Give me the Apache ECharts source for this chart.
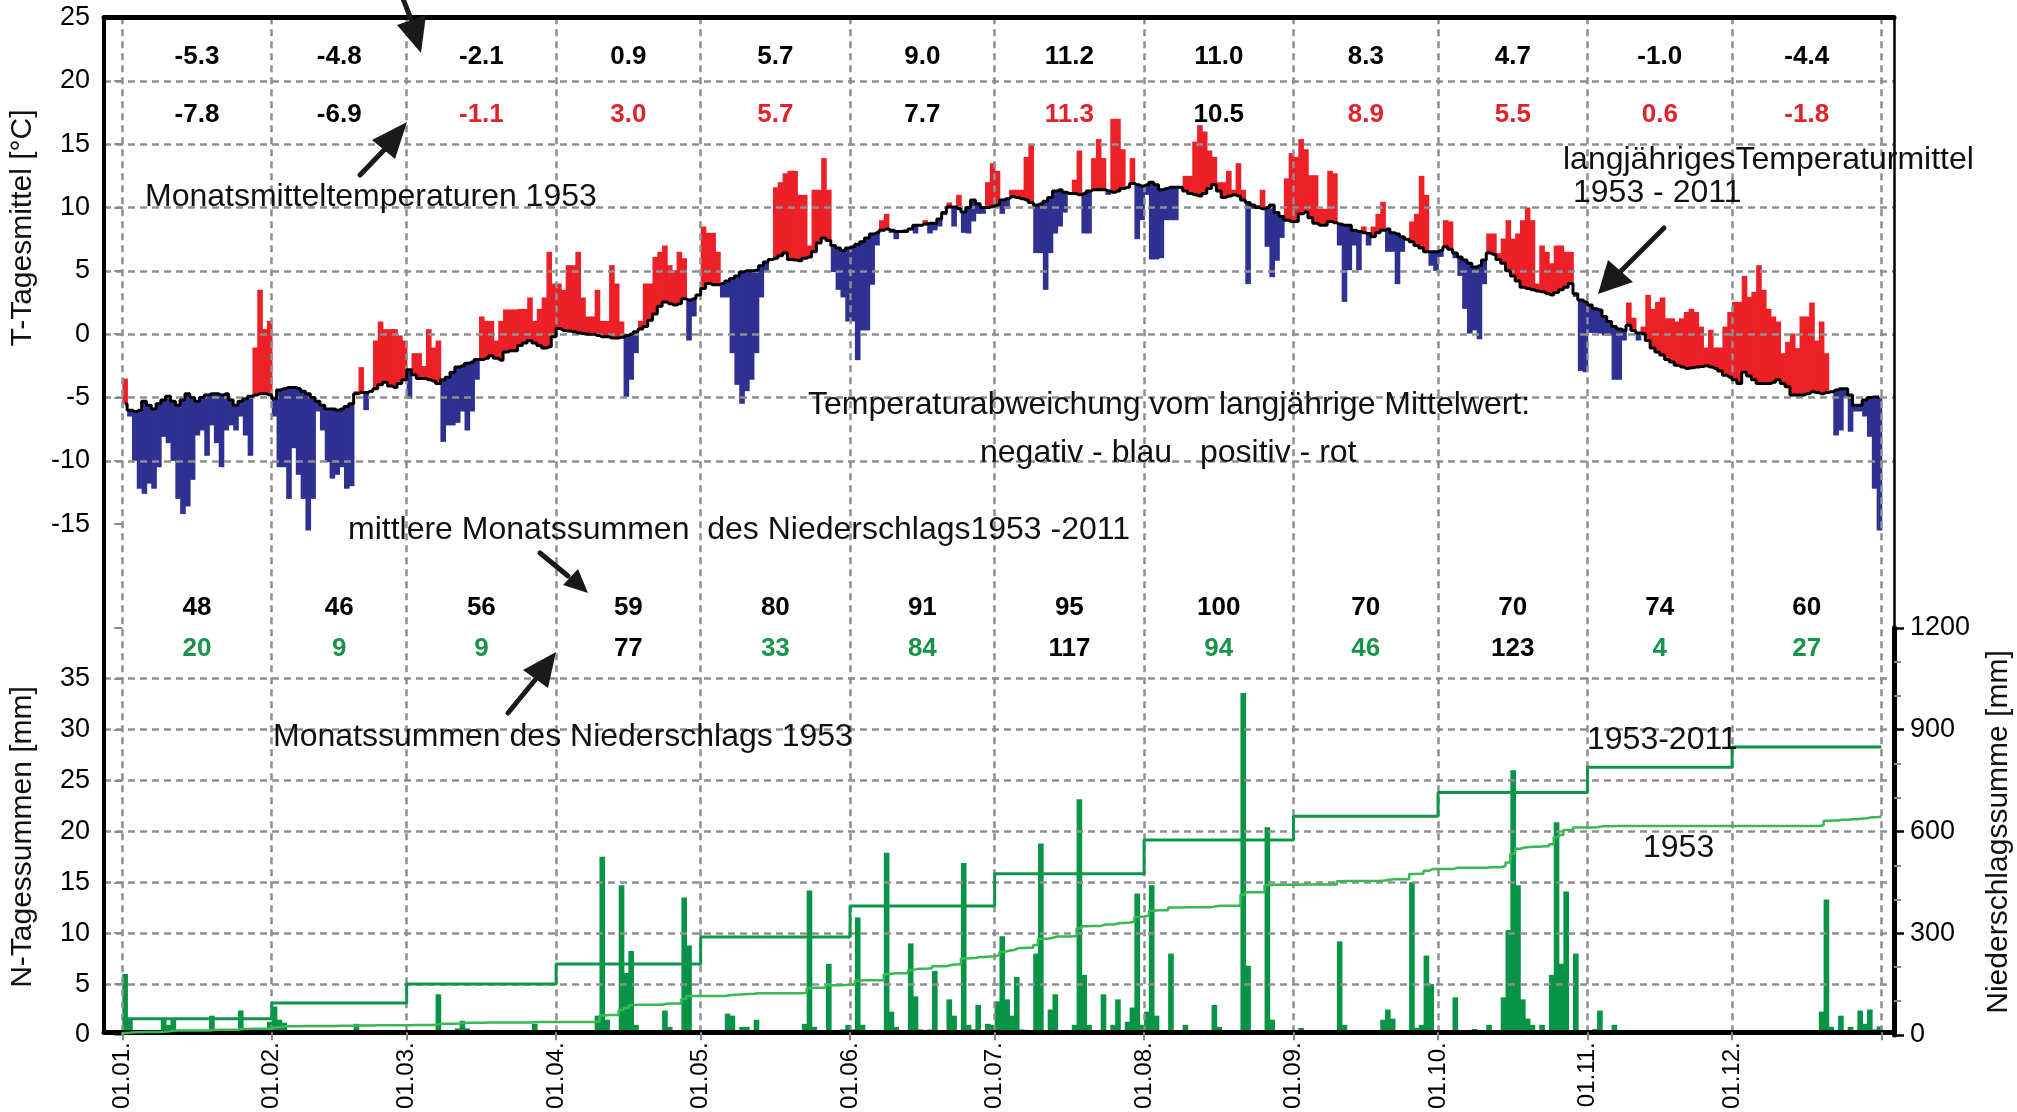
<!DOCTYPE html>
<html><head><meta charset="utf-8">
<script src="https://cdn.jsdelivr.net/npm/echarts@6/dist/echarts.min.js"></script>
<style>html,body{margin:0;padding:0;background:#fff}#c{width:2017px;height:1112px}</style>
</head><body><div id="c"></div>
<script>
// ---------------- DATA ----------------
const monthLengths = [31,28,31,30,31,30,31,31,30,31,30,31];
const dateLabels = ['01.01.','01.02.','01.03.','01.04.','01.05.','01.06.','01.07.','01.08.','01.09.','01.10.','01.11.','01.12.'];
const tempMonthLong = [-5.3,-4.8,-2.1,0.9,5.7,9.0,11.2,11.0,8.3,4.7,-1.0,-4.4];
const tempMonth1953 = [-7.8,-6.9,-1.1,3.0,5.7,7.7,11.3,10.5,8.9,5.5,0.6,-1.8];
const precipMonthLong = [48,46,56,59,80,91,95,100,70,70,74,60];
const precipMonth1953 = [20,9,9,77,33,84,117,94,46,123,4,27];

// long-term daily mean temperature 1953-2011 (per month)
const tempLongDaily = [
 [-5.5,-6.0,-6.1,-6.0,-5.3,-5.6,-5.9,-5.5,-5.2,-4.9,-5.3,-5.6,-5.2,-4.7,-5.0,-5.3,-5.0,-4.8,-4.7,-4.7,-4.8,-4.7,-5.2,-5.6,-5.3,-5.1,-4.9,-4.8,-4.7,-4.7,-4.8],
 [-5.1,-4.4,-4.3,-4.2,-4.2,-4.3,-4.5,-4.7,-5.0,-5.3,-5.6,-5.9,-5.9,-6.0,-5.9,-5.7,-5.5,-4.7,-4.6,-4.6,-4.5,-4.3,-4.0,-3.8,-4.1,-4.2,-3.9,-3.6],
 [-2.8,-3.2,-3.5,-3.5,-3.6,-3.7,-3.9,-3.6,-3.4,-3.0,-2.6,-2.5,-2.3,-2.2,-2.0,-2.0,-1.9,-1.7,-1.9,-2.05,-1.4,-1.3,-1.3,-0.9,-0.7,-0.5,-0.7,-0.9,-1.1,-1.0,-0.2],
 [0.45,0.3,0.25,0.2,0.1,0.05,0.0,0.0,-0.1,-0.2,-0.2,-0.3,-0.3,-0.25,-0.1,0.0,0.2,0.4,0.6,1.1,1.6,2.2,2.55,2.4,2.3,2.4,2.8,2.7,2.8,3.1],
 [3.6,4.0,3.9,3.9,4.0,4.2,4.4,4.6,4.9,5.0,5.0,5.05,5.4,5.7,5.9,6.0,6.2,6.4,5.9,5.85,5.8,6.0,6.1,6.5,7.2,7.6,7.4,7.0,6.8,6.6,6.8],
 [6.9,7.1,7.3,7.6,7.9,8.0,8.2,8.3,8.2,8.1,8.1,8.1,8.3,8.6,8.6,8.7,8.75,8.75,9.1,9.6,10.05,10.05,9.9,9.65,10.0,10.6,10.3,10.0,10.0,10.1],
 [10.2,10.6,10.7,10.85,10.8,10.7,10.6,10.4,10.2,10.3,10.5,10.8,11.3,11.4,11.2,11.1,11.1,11.0,11.1,11.3,11.4,11.4,11.4,11.3,11.2,11.3,11.5,11.6,11.9,11.8,11.7],
 [11.8,12.0,11.8,11.4,11.5,11.6,11.6,11.6,11.3,11.1,11.0,10.9,11.1,11.5,11.8,11.3,10.8,10.9,11.0,10.9,10.6,10.4,10.2,10.0,9.9,10.0,10.2,9.6,9.3,9.0,8.9],
 [8.9,9.5,9.65,9.2,8.75,8.6,8.6,8.9,8.8,8.7,8.6,8.6,8.2,8.1,8.0,7.95,7.7,8.0,8.2,8.3,8.0,7.9,7.7,7.5,7.3,7.0,6.8,6.5,6.5,6.5],
 [6.6,6.9,6.7,6.4,6.1,5.85,5.6,5.3,5.4,5.85,6.4,6.3,5.9,5.6,5.0,4.6,4.2,3.7,3.6,3.5,3.4,3.35,3.2,3.1,3.3,3.5,3.7,4.0,3.2,2.7,2.55],
 [2.3,2.0,1.9,1.4,1.0,0.6,0.4,0.3,0.7,0.3,0.1,0.05,-0.5,-1.1,-1.4,-1.65,-2.0,-2.2,-2.45,-2.6,-2.7,-2.65,-2.6,-2.55,-2.5,-2.6,-2.7,-2.9,-3.25,-3.4],
 [-3.6,-3.9,-3.0,-3.3,-3.6,-3.9,-3.9,-3.9,-3.8,-3.6,-3.9,-4.15,-4.8,-4.8,-4.8,-4.7,-4.55,-4.6,-4.7,-4.6,-4.55,-4.4,-4.3,-4.3,-4.8,-5.6,-5.6,-5.2,-5.0,-4.95,-4.95]
].flat();

// daily mean temperature 1953 (per month)
const temp1953Daily = [
 [-3.5,-6.5,-10,-12.2,-12.6,-11.8,-12.2,-10.5,-8.1,-8.6,-10,-13,-14.2,-13.6,-11.5,-8,-7.6,-9.6,-7.2,-8.6,-10.5,-7.6,-7.2,-7.6,-6.5,-8,-9.6,-1.05,3.5,0.4,1.05],
 [-6.5,-10.5,-10.5,-13,-9,-11.1,-13,-15.5,-13,-6.1,-7.6,-10.1,-11.4,-11.1,-10.5,-12.2,-12,-4.5,-2.6,-6,-4.5,-0.5,1,0.4,0.4,0.4,-0.1,-0.5],
 [-5.1,-1.5,-1.5,-2.5,0.4,-1.05,-0.5,-8.5,-7.2,-7.2,-7.0,-6.1,-7.6,-6.1,-3.6,1.4,1.05,1.05,-0.5,1.05,1.95,1.95,1.95,2.0,2.0,2.9,1.05,2.0,2.9,6.5,4.0],
 [4.0,3.5,5.45,5.45,6.5,2.9,1.4,1.4,3.5,1.05,1.05,5.45,4.0,1.0,-4.95,-3.6,-1.5,1.05,4.0,4.0,6.1,6.5,7.0,5.45,5.05,6.5,6.0,-0.5,1.4,3.0],
 [8.5,8.0,8.0,6.5,2.9,2.9,-1.5,-4.0,-5.5,-4.5,-3.6,-1.5,2.9,4.9,5.9,11.6,12.0,12.7,12.9,12.9,11.0,11.0,7.0,11.4,11.4,13.9,11.4,4.9,3.5,2.9,1.0],
 [1.0,-2.05,0.3,0.3,3.9,7.0,9.0,9.5,8.0,7.5,8.2,8.3,8.4,7.95,8.7,9.0,7.95,8.2,8.5,9.4,10.4,8.5,11.0,8.0,7.95,8.9,9.5,9.5,12.0,13.5],
 [12.9,9.5,9.9,11.4,11.4,11.4,14.0,15.0,6.4,6.4,3.5,6.4,7.95,8.5,9.6,11.2,12.2,14.5,7.95,7.95,13.9,15.4,13.9,11.0,17.0,17.0,14.6,11.6,13.9,7.5,9.0],
 [11.0,5.9,5.9,6.0,9.0,9.0,9.0,11.5,12.5,12.5,15.2,16.5,16.0,14.5,14.0,12.0,12.0,12.9,11.4,13.5,11.4,3.95,9.9,10.2,11.4,6.9,4.5,5.8,7.6,12.3,14.3],
 [14.0,15.4,14.6,12.55,12.55,9.9,9.9,12.9,12.7,7.0,2.55,5.05,7.0,5.05,8.5,7.0,8.5,9.5,10.45,6.5,6.5,3.95,6.5,7.5,8.9,9.5,12.5,11.0,5.4,5.0],
 [6.1,9.0,8.9,6.0,4.6,2.0,0.05,0.3,-0.4,3.95,7.95,7.95,6.4,7.55,9.0,7.55,7.95,9.0,10.0,9.0,4.0,7.0,6.5,5.6,7.0,7.0,6.5,6.5,2.95,-2.9,-3.0],
 [0.1,0.1,0.05,-0.1,-0.1,-3.6,-3.6,-0.5,2.5,1.3,-0.5,0.6,3.1,2.0,2.55,2.9,1.25,1.25,1.0,1.25,1.75,2.0,1.75,0.6,-1.05,0.35,-1.05,-1.05,0.6,1.75],
 [2.55,2.55,4.6,2.95,3.35,5.45,3.5,2.0,1.4,1.0,-1.5,-0.6,0.05,-1.1,1.4,1.4,2.5,-0.5,1.0,-1.5,-4.5,-8.0,-7.6,-4.95,-7.7,-6.1,-6.1,-6.5,-8.1,-12.2,-15.5]
].flat();

// daily precipitation 1953 [mm] (per month)
const precip1953Daily = [
 [6.0,1.5,0.4,0.4,0.3,0.3,0,0,1.5,1.0,1.5,0,0.2,0,0,0,0,0,1.9,0.5,0,0,0,0,2.4,0,0.3,0.5,0,0,1.3],
 [2.8,1.5,1.2,0.5,0,0,0.4,0,0.4,0,0,0,0,0.3,0,0,0,1.1,0,0,0,0.3,0,0,0,0.5,0,0],
 [0,0.4,0,0,0,0,4.0,0,0,0,0.65,1.4,0.65,0,0,0,0.5,0,0,0,0,0.3,0,0,0,0,1.1,0,0,0,0],
 [0,0,0,0,0,0,0,0,1.9,17.5,1.5,0,0,14.7,6.1,8.25,1.0,0,0,0,0,0.5,2.4,0.8,0,0,13.5,8.8,0,0],
 [0,0,0,0,0,2.1,1.9,0.4,0.8,0.8,0.5,1.5,0,0.4,0,0,0,0,0,0,0,1.1,14.2,0.8,0,0,7.0,0,0,0.55,1.0],
 [0.55,11.55,1.0,0,0,0,0,17.9,2.3,0.8,0,0,9.0,3.8,0.55,0.4,0.55,6.3,0,0,3.5,1.9,0.4,16.9,1.0,0.55,2.95,0,1.1,1.0],
 [3.3,9.7,3.5,1.9,5.7,0.55,0.5,0,8.0,18.8,0,2.5,4.0,0,0,0,1.0,23.15,5.9,1.0,0,0,4.0,0,1.0,3.5,0,1.3,2.7,13.9,1.0],
 [2.3,14.7,1.9,0,0,8.0,0,0,1.0,0,0,0,0,0,2.95,0.8,0,0,0,0,33.6,6.8,0,0,0,20.4,1.5,0,0,0,0],
 [0,0.7,0,0,0,0,0,0,0,9.2,1.0,0,0,0,0,0,0,0,1.5,2.5,1.6,0,0,0,15.0,0.7,1.0,7.8,5.0,0],
 [0,0,0,3.7,0,0,0,0.6,0,0,1.0,0,0,3.7,10.3,26.0,14.7,3.5,1.6,1.0,0,1.0,0,5.9,20.9,7.0,14.1,0,8.0,0,0],
 [0,0.6,2.4,0,0,1.0,0,0,0,0,0,0,0,0,0,0,0,0,0,0,0,0,0,0,0,0,0,0,0,0],
 [0,0,0,0,0,0,0,0,0,0,0,0,0,0,0,0,0,0,2.3,13.3,0.8,0,1.9,0.5,0.8,0,2.4,1.1,2.5,0.55,0.85]
].flat();

if (tempLongDaily.length !== 365 || temp1953Daily.length !== 365 || precip1953Daily.length !== 365) {
  throw new Error('length ' + tempLongDaily.length + ' ' + temp1953Daily.length + ' ' + precip1953Daily.length);
}

// ---------------- DERIVED ----------------
const monthStarts = [];
monthLengths.reduce((acc, n) => { monthStarts.push(acc); return acc + n; }, 0);
const monthMids = monthStarts.map((s, i) => s + monthLengths[i] / 2);
const days = temp1953Daily.map((_, i) => i);

const cumLong = [];
precipMonthLong.reduce((a, v) => { cumLong.push(a + v); return a + v; }, 0);
const longStep = monthStarts.map((s, i) => [s, cumLong[i]]).concat([[365, cumLong[11]]]);

const cum1953 = [];
precip1953Daily.reduce((a, v) => { cum1953.push(+(a + v).toFixed(2)); return a + v; }, 0);
const step1953 = [[0, 0]].concat(days.map(d => [d, cum1953[d]])).concat([[365, cum1953[364]]]);

// ---------------- STYLE ----------------
const FONT = '"Liberation Sans", Arial, Helvetica, sans-serif';
const RED = '#ed2027', BLUE = '#2e3192', GREEN = '#079447';
const GRIDC = '#8f8f8f';
const DASH = [7, 5];
const X_MIN = -3.8, X_MAX = 367.6;

const chart = echarts.init(document.getElementById('c'), null, {renderer: 'canvas'});

function textRowSeries(xi, yi, level, texts, colors) {
  return {
    type: 'custom', xAxisIndex: xi, yAxisIndex: yi, z: 20, silent: true, clip: false,
    data: monthMids.map(m => [m, level]),
    renderItem: function (params, api) {
      const p = api.coord([api.value(0), api.value(1)]);
      const i = params.dataIndex;
      return {type: 'text', x: p[0], y: p[1],
        style: {text: texts[i], fill: colors[i], font: 'bold 26px ' + FONT,
                align: 'center', verticalAlign: 'middle', textAlign: 'center', textVerticalAlign: 'middle'}};
    }
  };
}
const fmt1 = v => v.toFixed(1);

function txt(x, y, s, opt) {
  opt = opt || {};
  return {type: 'text', x: x, y: y, rotation: opt.rot || 0, z: 50, silent: true,
    style: {text: s, font: (opt.size || 32) + 'px ' + FONT, fill: opt.color || '#111',
            align: opt.align || 'left', verticalAlign: 'middle',
            textAlign: opt.align || 'left', textVerticalAlign: 'middle'}};
}
function arrow(x1, y1, x2, y2, tip, c1, c2) {
  return [
    {type: 'line', z: 50, silent: true, shape: {x1: x1, y1: y1, x2: x2, y2: y2}, style: {stroke: '#1a1a1a', lineWidth: 5, lineCap: 'round'}},
    {type: 'polygon', z: 50, silent: true, shape: {points: [tip, c1, c2]}, style: {fill: '#1a1a1a'}}
  ];
}

const gridLineStyle = {type: DASH, color: GRIDC, width: 2.5};

const option = {
  animation: false,
  backgroundColor: '#fff',
  textStyle: {fontFamily: FONT},
  grid: [
    {left: 104, right: 123, top: 17.5, height: 1017.5},
    {left: 104, right: 123, top: 17.5, height: 506.7},
    {left: 104, right: 123, top: 627.8, height: 407.2}
  ],
  xAxis: [
    {gridIndex: 0, type: 'value', min: X_MIN, max: X_MAX, position: 'bottom', z: 6,
     axisLine: {show: true, onZero: false, lineStyle: {color: '#000', width: 5}},
     axisTick: {show: true, customValues: monthStarts.concat([365]), length: 8, lineStyle: {color: '#888', width: 2}},
     axisLabel: {show: true, customValues: monthStarts, rotate: 90, fontSize: 24, color: '#000', margin: 10,
                 fontFamily: FONT, formatter: v => dateLabels[monthStarts.indexOf(Math.round(v))] || ''},
     splitLine: {show: false}},
    {gridIndex: 0, type: 'value', min: X_MIN, max: X_MAX, position: 'top', z: 6,
     axisLine: {show: true, onZero: false, lineStyle: {color: '#000', width: 5}},
     axisTick: {show: false}, axisLabel: {show: false}, splitLine: {show: false}},
    {gridIndex: 1, type: 'value', min: X_MIN, max: X_MAX, show: false},
    {gridIndex: 2, type: 'value', min: X_MIN, max: X_MAX, show: false}
  ],
  yAxis: [
    {gridIndex: 0, type: 'value', min: 0, max: 1, position: 'left', z: 6,
     axisLine: {show: true, onZero: false, lineStyle: {color: '#000', width: 4}},
     axisTick: {show: false}, axisLabel: {show: false}, splitLine: {show: false}},
    {gridIndex: 0, type: 'value', min: 0, max: 1, position: 'right', z: 6,
     axisLine: {show: true, onZero: false, lineStyle: {color: '#000', width: 2.5}},
     axisTick: {show: false}, axisLabel: {show: false}, splitLine: {show: false}},
    {gridIndex: 1, type: 'value', min: -15, max: 25, interval: 5, position: 'left', z: 4,
     axisLine: {show: false}, axisTick: {show: true, length: 8, lineStyle: {color: '#888', width: 2}},
     axisLabel: {fontSize: 27, color: '#000', margin: 14, fontFamily: FONT, formatter: v => String(v)},
     splitLine: {show: true, showMinLine: false, showMaxLine: false, lineStyle: gridLineStyle}},
    {gridIndex: 2, type: 'value', min: 0, max: 40, interval: 5, position: 'left', z: 4,
     axisLine: {show: false}, axisTick: {show: true, length: 8, lineStyle: {color: '#888', width: 2}},
     axisLabel: {fontSize: 27, color: '#000', margin: 14, fontFamily: FONT, formatter: v => (v >= 40 ? '' : String(v))},
     splitLine: {show: true, showMinLine: false, showMaxLine: false, lineStyle: gridLineStyle}},
    {gridIndex: 2, type: 'value', min: 0, max: 1200, interval: 300, position: 'right', z: 6,
     axisLine: {show: true, onZero: false, lineStyle: {color: '#000', width: 5}},
     axisTick: {show: true, length: 10, lineStyle: {color: '#000', width: 2.5}},
     minorTick: {show: true, splitNumber: 3, length: 7, lineStyle: {color: '#888', width: 2}},
     axisLabel: {fontSize: 27, color: '#000', margin: 16, fontFamily: FONT, formatter: v => String(v)},
     splitLine: {show: false}}
  ],
  series: [
    // month grid lines
    {type: 'line', xAxisIndex: 0, yAxisIndex: 0, z: 4, silent: true, showSymbol: false,
     data: [[0, 0.5], [1, 0.5]], lineStyle: {opacity: 0},
     markLine: {silent: true, symbol: ['none', 'none'], label: {show: false}, emphasis: {disabled: true},
                lineStyle: gridLineStyle, data: monthStarts.concat([365]).map(v => ({xAxis: v}))}},
    // temperature deviation bars
    {type: 'custom', xAxisIndex: 2, yAxisIndex: 2, z: 2, silent: true,
     data: days.map(d => [d, tempLongDaily[d], temp1953Daily[d]]),
     renderItem: function (params, api) {
       const d = api.value(0), m = api.value(1), t = api.value(2);
       const a = api.coord([d, m]), b = api.coord([d + 1, t]);
       return {type: 'rect', shape: {x: a[0], y: Math.min(a[1], b[1]), width: b[0] - a[0] + 0.8, height: Math.abs(b[1] - a[1])},
               style: {fill: t >= m ? RED : BLUE}};
     }},
    // long-term mean line
    {type: 'line', xAxisIndex: 2, yAxisIndex: 2, z: 8, silent: true, step: 'middle', showSymbol: false, symbol: 'none',
     data: days.map(d => [d + 0.5, tempLongDaily[d]]), lineStyle: {color: '#000', width: 3}},
    // daily precipitation bars
    {type: 'custom', xAxisIndex: 3, yAxisIndex: 3, z: 2, silent: true,
     data: days.map(d => [d, precip1953Daily[d]]),
     renderItem: function (params, api) {
       const d = api.value(0), p = api.value(1);
       if (!p) return null;
       const a = api.coord([d, 0]), b = api.coord([d + 1, p]);
       return {type: 'rect', shape: {x: a[0], y: b[1], width: b[0] - a[0] + 0.8, height: a[1] - b[1]}, style: {fill: GREEN}};
     }},
    // cumulative long-term monthly sums
    {type: 'line', xAxisIndex: 3, yAxisIndex: 4, z: 8, silent: true, step: 'end', showSymbol: false, symbol: 'none',
     data: longStep, lineStyle: {color: '#0f964a', width: 3}},
    // cumulative 1953
    {type: 'line', xAxisIndex: 3, yAxisIndex: 4, z: 8, silent: true, step: 'end', showSymbol: false, symbol: 'none',
     data: step1953, lineStyle: {color: '#37b852', width: 2.5}},
    // monthly numbers
    textRowSeries(2, 2, 21.9, tempMonthLong.map(fmt1), tempMonthLong.map(() => '#000')),
    textRowSeries(2, 2, 17.3, tempMonth1953.map(fmt1), tempMonth1953.map((v, i) => v >= tempMonthLong[i] ? '#e0232b' : '#000')),
    textRowSeries(3, 4, 1260, precipMonthLong.map(String), precipMonthLong.map(() => '#000')),
    textRowSeries(3, 4, 1139, precipMonth1953.map(String), precipMonth1953.map((v, i) => v > precipMonthLong[i] ? '#000' : '#17944a'))
  ],
  graphic: [
    txt(23, 228, 'T-Tagesmittel [°C]', {rot: Math.PI / 2, align: 'center', size: 30}),
    txt(23, 837, 'N-Tagessummen [mm]', {rot: Math.PI / 2, align: 'center', size: 30}),
    txt(1999, 832, 'Niederschlagssumme [mm]', {rot: Math.PI / 2, align: 'center', size: 30}),
    txt(145, 197, 'Monatsmitteltemperaturen 1953'),
    txt(1563, 160, 'langjährigesTemperaturmittel'),
    txt(1573, 193, '1953 - 2011'),
    txt(808, 405, 'Temperaturabweichung vom langjährige Mittelwert:'),
    txt(980, 453, 'negativ - blau'),
    txt(1200, 453, 'positiv - rot'),
    txt(348, 530, 'mittlere Monatssummen  des Niederschlags1953 -2011'),
    txt(273, 737, 'Monatssummen des Niederschlags 1953'),
    txt(1587, 740, '1953-2011'),
    txt(1643, 848, '1953')
  ].concat(
    arrow(402, -4, 412, 22, [421, 53], [397, 25], [426, 15]),
    arrow(360, 175, 385, 149, [407, 122], [372, 140], [395, 159]),
    arrow(1664, 228, 1620, 272, [1598, 294], [1608, 260], [1633, 282]),
    arrow(540, 553, 568, 576, [588, 593], [563, 585], [578, 569]),
    arrow(508, 713, 535, 680, [556, 652], [523, 670], [548, 688])
  )
};
chart.setOption(option);
</script></body></html>
